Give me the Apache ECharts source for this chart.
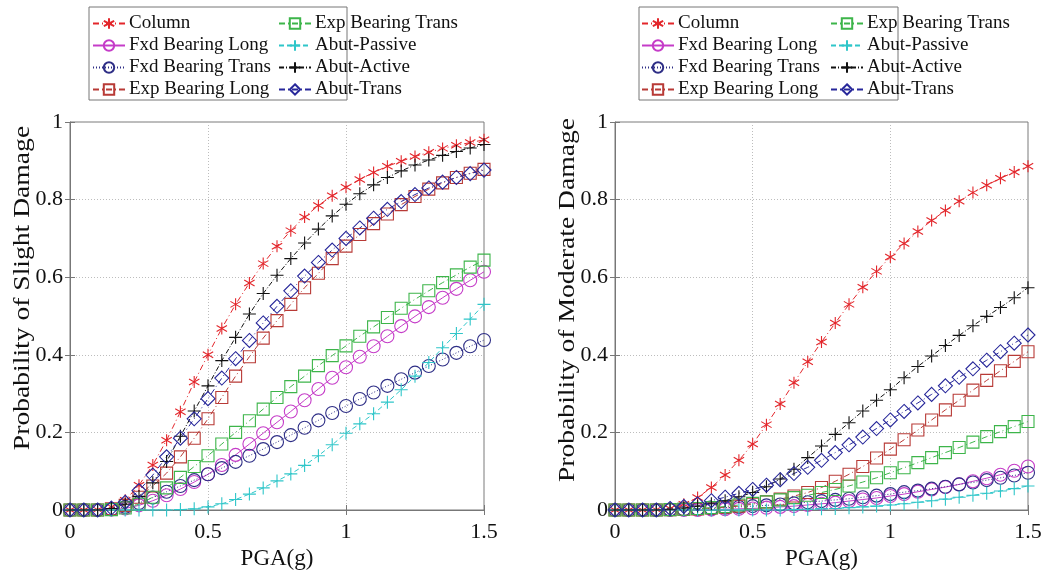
<!DOCTYPE html>
<html>
<head>
<meta charset="utf-8">
<script src="https://cdn.jsdelivr.net/npm/echarts@6/dist/echarts.min.js"></script>
<style>
  html, body { margin: 0; padding: 0; background: #fff; }
  #chart { width: 1046px; height: 579px; }
</style>
</head>
<body>
<div id="chart"></div>
<script>
// PGA (g) sample points
var pga = [0, 0.05, 0.1, 0.15, 0.2, 0.25, 0.3, 0.35, 0.4, 0.45, 0.5, 0.55, 0.6, 0.65, 0.7, 0.75,
           0.8, 0.85, 0.9, 0.95, 1.0, 1.05, 1.1, 1.15, 1.2, 1.25, 1.3, 1.35, 1.4, 1.45, 1.5];

var seriesNames = ['Column', 'Fxd Bearing Long', 'Fxd Bearing Trans', 'Exp Bearing Long',
                   'Exp Bearing Trans', 'Abut-Passive', 'Abut-Active', 'Abut-Trans'];

var xTicks = [0, 0.5, 1, 1.5];
var yTicks = [0, 0.2, 0.4, 0.6, 0.8, 1];
var yTitles = ['Probability of Slight Damage', 'Probability of Moderate Damage'];

// slight damage (left)
var slightColumn   = [0,0,0.001,0.008,0.025,0.064,0.116,0.18,0.253,0.33,0.40,0.468,0.53,0.585,0.635,0.68,0.72,0.755,0.785,0.81,0.832,0.852,0.87,0.886,0.899,0.911,0.922,0.932,0.94,0.947,0.954];
var slightFxdLong  = [0,0,0,0.001,0.004,0.012,0.024,0.038,0.054,0.072,0.092,0.116,0.142,0.17,0.198,0.226,0.254,0.283,0.312,0.341,0.368,0.395,0.422,0.448,0.474,0.499,0.523,0.547,0.57,0.592,0.614];
var slightFxdTrans = [0,0,0,0.002,0.008,0.018,0.032,0.047,0.062,0.077,0.092,0.108,0.124,0.14,0.157,0.175,0.193,0.212,0.231,0.25,0.268,0.286,0.303,0.32,0.337,0.354,0.371,0.388,0.405,0.422,0.438];
var slightExpLong  = [0,0,0,0.003,0.012,0.033,0.062,0.095,0.137,0.185,0.235,0.29,0.345,0.395,0.443,0.488,0.53,0.573,0.61,0.648,0.68,0.71,0.738,0.763,0.787,0.808,0.827,0.843,0.857,0.868,0.878];
var slightExpTrans = [0,0,0,0.001,0.005,0.015,0.033,0.057,0.084,0.112,0.14,0.17,0.2,0.23,0.26,0.29,0.318,0.345,0.372,0.398,0.423,0.448,0.472,0.496,0.52,0.543,0.565,0.586,0.606,0.626,0.644];
var slightPassive  = [0,0,0,0,0,0,0,0,0.001,0.003,0.008,0.016,0.027,0.041,0.057,0.075,0.093,0.115,0.14,0.168,0.198,0.222,0.248,0.278,0.31,0.345,0.38,0.418,0.455,0.492,0.53];
var slightActive   = [0,0,0,0.004,0.015,0.035,0.07,0.125,0.19,0.255,0.32,0.385,0.445,0.505,0.558,0.605,0.648,0.688,0.724,0.758,0.788,0.815,0.838,0.857,0.874,0.889,0.902,0.914,0.924,0.933,0.942];
var slightTrans    = [0,0,0,0.005,0.02,0.05,0.09,0.137,0.185,0.235,0.287,0.34,0.39,0.437,0.482,0.525,0.565,0.603,0.638,0.67,0.7,0.727,0.752,0.775,0.795,0.813,0.83,0.845,0.857,0.867,0.876];

// moderate damage (right)
var modColumn   = [0,0,0,0.001,0.004,0.015,0.032,0.058,0.09,0.128,0.17,0.22,0.273,0.328,0.382,0.433,0.482,0.53,0.574,0.615,0.652,0.687,0.718,0.746,0.772,0.796,0.818,0.837,0.855,0.871,0.886];
var modFxdLong  = [0,0,0,0,0,0,0,0.001,0.002,0.003,0.004,0.006,0.008,0.01,0.013,0.016,0.019,0.023,0.027,0.031,0.036,0.041,0.047,0.053,0.059,0.066,0.074,0.082,0.091,0.101,0.112];
var modFxdTrans = [0,0,0,0,0.001,0.002,0.003,0.004,0.006,0.008,0.01,0.012,0.014,0.017,0.02,0.023,0.026,0.029,0.033,0.037,0.041,0.046,0.05,0.055,0.06,0.066,0.071,0.077,0.083,0.089,0.096];
var modExpLong  = [0,0,0,0,0.001,0.002,0.003,0.005,0.007,0.01,0.015,0.021,0.028,0.036,0.045,0.058,0.074,0.092,0.112,0.134,0.157,0.181,0.206,0.232,0.258,0.283,0.309,0.334,0.359,0.383,0.408];
var modExpTrans = [0,0,0,0,0.001,0.002,0.004,0.006,0.009,0.013,0.017,0.021,0.026,0.032,0.038,0.045,0.053,0.062,0.072,0.083,0.096,0.109,0.122,0.135,0.148,0.161,0.175,0.189,0.202,0.215,0.228];
var modPassive  = [0,0,0,0,0,0,0,0,0,0,0,0,0,0.001,0.002,0.003,0.004,0.006,0.008,0.01,0.013,0.016,0.02,0.024,0.028,0.033,0.038,0.043,0.049,0.055,0.062];
var modActive   = [0,0,0,0,0.002,0.005,0.01,0.016,0.024,0.034,0.045,0.06,0.08,0.105,0.135,0.165,0.195,0.225,0.255,0.283,0.31,0.341,0.37,0.397,0.424,0.45,0.475,0.499,0.522,0.547,0.573];
var modTrans    = [0,0,0,0,0.004,0.009,0.016,0.024,0.033,0.043,0.053,0.064,0.078,0.094,0.11,0.128,0.148,0.168,0.188,0.21,0.232,0.254,0.276,0.298,0.32,0.342,0.364,0.386,0.408,0.43,0.451];

var slightData = [slightColumn, slightFxdLong, slightFxdTrans, slightExpLong, slightExpTrans, slightPassive, slightActive, slightTrans];
var modData    = [modColumn, modFxdLong, modFxdTrans, modExpLong, modExpTrans, modPassive, modActive, modTrans];

var STAR = 'path://M0,-10L0,10M-8.66,-5L8.66,5M-8.66,5L8.66,-5';
var PLUS = 'path://M-10,0L10,0M0,-10L0,10';
var DASHDOT = [6, 3, 1, 3];

var styles = {
    'Column':            {color: '#e3262b', symbol: STAR,      size: 12, dash: DASHDOT},
    'Fxd Bearing Long':  {color: '#c53cc8', symbol: 'circle',  size: 13, dash: 'solid'},
    'Fxd Bearing Trans': {color: '#2e2e86', symbol: 'circle',  size: 13, dash: [1, 2]},
    'Exp Bearing Long':  {color: '#b83a36', symbol: 'rect',    size: 12, dash: DASHDOT},
    'Exp Bearing Trans': {color: '#3db54a', symbol: 'rect',    size: 12, dash: DASHDOT},
    'Abut-Passive':      {color: '#2fc6c9', symbol: PLUS,      size: 13, dash: [5, 3]},
    'Abut-Active':       {color: '#111111', symbol: PLUS,      size: 13, dash: [5, 2, 1, 2]},
    'Abut-Trans':        {color: '#27279a', symbol: 'diamond', size: 14, dash: DASHDOT}
};

var FONT = 'Liberation Serif';
var grids = [
    {left: 70, top: 122, width: 414, height: 388},
    {left: 615, top: 122, width: 413, height: 388}
];

function makeSeries(vals, idx, gridIdx) {
    var name = seriesNames[idx], s = styles[name];
    return {
        name: name,
        type: 'line',
        xAxisIndex: gridIdx,
        yAxisIndex: gridIdx,
        data: pga.map(function (x, i) { return [x, vals[i]]; }),
        symbol: s.symbol,
        symbolSize: s.size,
        symbolKeepAspect: true,
        showSymbol: true,
        lineStyle: {color: s.color, width: 1, type: s.dash},
        itemStyle: {color: 'rgba(0,0,0,0)', borderColor: s.color, borderWidth: 1.1},
        emphasis: {disabled: true},
        z: 3
    };
}

function valueAxis(gridIdx, isX, main, name, nameGap) {
    var ticks = isX ? xTicks : yTicks;
    return {
        type: 'value',
        gridIndex: gridIdx,
        position: isX ? (main ? 'bottom' : 'top') : (main ? 'left' : 'right'),
        min: ticks[0],
        max: ticks[ticks.length - 1],
        interval: ticks[1] - ticks[0],
        name: main ? name : '',
        nameLocation: 'middle',
        nameGap: nameGap,
        nameTextStyle: {fontFamily: FONT, fontSize: 23, color: '#111'},
        axisLine: {show: main, lineStyle: {color: '#777', width: 1}},
        axisTick: {show: true, inside: true, length: 5, lineStyle: {color: '#777'}},
        axisLabel: {show: main, fontFamily: FONT, fontSize: 22, color: '#111', margin: isX ? 11 : 7,
                    formatter: function (v) { return String(+v.toFixed(2)); }},
        splitLine: {show: main, lineStyle: {color: '#bdbdbd', type: [1, 2], width: 1}}
    };
}

function legend(left, names) {
    return {
        left: left, top: 14,
        orient: 'vertical',
        data: names,
        itemWidth: 32, itemHeight: 13, itemGap: 3,
        padding: 0,
        selectedMode: false,
        textStyle: {fontFamily: FONT, fontSize: 19, color: '#111', padding: [0, 0, 0, -1]}
    };
}

// y titles: the source picture is stretched vertically, so the text is too
function yTitle(x, y, text) {
    return {
        type: 'text', x: x, y: y, rotation: Math.PI / 2, scaleX: 1.2,
        style: {text: text, fontFamily: FONT, fontSize: 23, fill: '#111', align: 'center', verticalAlign: 'middle'}
    };
}

var chart = echarts.init(document.getElementById('chart'), null, {renderer: 'canvas'});
var series = [];
slightData.forEach(function (v, i) { series.push(makeSeries(v, i, 0)); });
modData.forEach(function (v, i) { series.push(makeSeries(v, i, 1)); });

chart.setOption({
    animation: false,
    backgroundColor: '#fff',
    grid: grids.map(function (g) {
        return {left: g.left, top: g.top, width: g.width, height: g.height,
                show: true, borderColor: '#7a7a7a', borderWidth: 1, containLabel: false};
    }),
    xAxis: [
        valueAxis(0, true, true, 'PGA(g)', 37),
        valueAxis(1, true, true, 'PGA(g)', 37),
        valueAxis(0, true, false, '', 0),
        valueAxis(1, true, false, '', 0)
    ],
    yAxis: [
        valueAxis(0, false, true, '', 0),
        valueAxis(1, false, true, '', 0),
        valueAxis(0, false, false, '', 0),
        valueAxis(1, false, false, '', 0)
    ],
    legend: [
        legend(92, seriesNames.slice(0, 4)),
        legend(278, seriesNames.slice(4)),
        legend(641, seriesNames.slice(0, 4)),
        legend(830, seriesNames.slice(4))
    ],
    graphic: [
        {type: 'rect', shape: {x: 89, y: 7, width: 258, height: 93}, style: {fill: 'none', stroke: '#777', lineWidth: 1}, z: -1},
        {type: 'rect', shape: {x: 639, y: 7, width: 259, height: 93}, style: {fill: 'none', stroke: '#777', lineWidth: 1}, z: -1},
        yTitle(23, 288, yTitles[0]),
        yTitle(568, 300, yTitles[1])
    ],
    series: series
});
</script>
</body>
</html>
